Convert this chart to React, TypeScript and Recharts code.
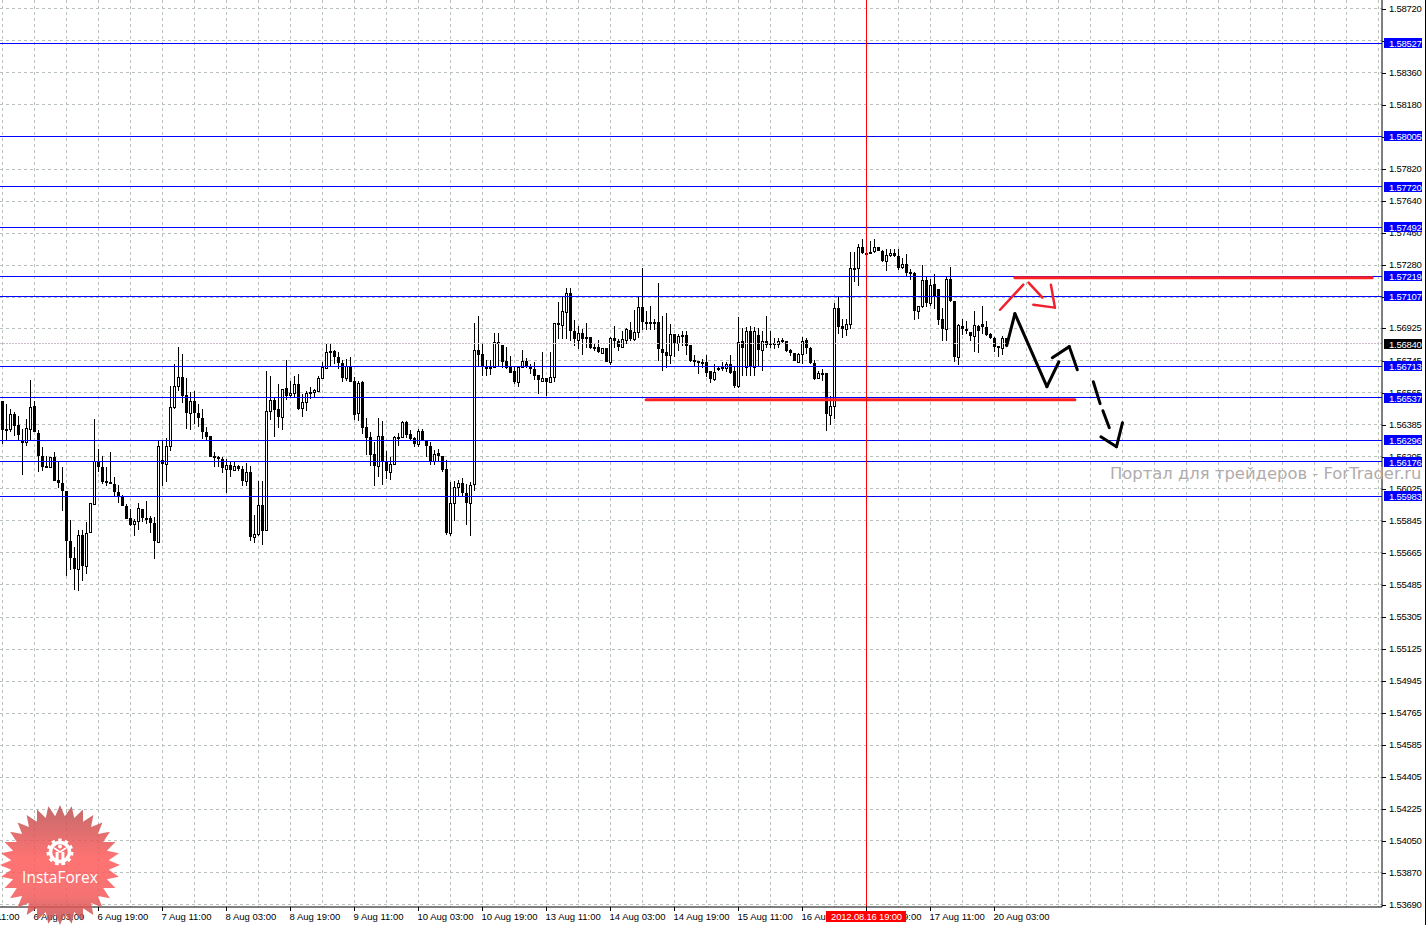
import { Bar, CartesianGrid, ComposedChart, ReferenceLine, XAxis, YAxis } from "recharts";

const opens = [
  1.56519,1.56360,1.56358,1.56444,1.56385,1.56295,1.56289,1.56358,1.56489,1.56340,
  1.56211,1.56154,1.56149,1.56205,1.56074,1.56057,1.56014,1.55733,1.55636,1.55572,
  1.55767,1.55593,1.55780,1.55939,1.56182,1.56149,1.56068,1.56065,1.56051,1.56008,
  1.55982,1.55930,1.55861,1.55825,1.55844,1.55913,1.55861,1.55861,1.55831,1.55728,
  1.56186,1.56164,1.56265,1.56482,1.56600,1.56654,1.56553,1.56448,1.56519,1.56452,
  1.56422,1.56343,1.56323,1.56211,1.56205,1.56192,1.56134,1.56160,1.56130,1.56152,
  1.56134,1.56066,1.56119,1.55752,1.55771,1.55934,1.55793,1.56459,1.56523,1.56472,
  1.56426,1.56590,1.56549,1.56562,1.56613,1.56479,1.56514,1.56568,1.56568,1.56576,
  1.56647,1.56701,1.56798,1.56800,1.56767,1.56731,1.56645,1.56712,1.56632,1.56449,
  1.56623,1.56374,1.56314,1.56220,1.56151,1.56321,1.56181,1.56119,1.56164,1.56318,
  1.56314,1.56400,1.56333,1.56310,1.56276,1.56351,1.56301,1.56267,1.56183,1.56224,
  1.56211,1.56136,1.55775,1.55945,1.56033,1.56058,1.56002,1.55945,1.56050,1.56804,
  1.56782,1.56711,1.56707,1.56707,1.56849,1.56832,1.56742,1.56711,1.56684,1.56626,
  1.56707,1.56742,1.56714,1.56697,1.56662,1.56632,1.56647,1.56626,1.56651,1.56957,
  1.56946,1.57020,1.57123,1.56912,1.56860,1.56899,1.56875,1.56875,1.56820,1.56822,
  1.56788,1.56817,1.56738,1.56871,1.56856,1.56822,1.56861,1.56916,1.56865,1.56903,
  1.57047,1.56962,1.56961,1.56959,1.56959,1.56809,1.56792,1.56774,1.56893,1.56845,
  1.56890,1.56890,1.56833,1.56749,1.56740,1.56738,1.56734,1.56687,1.56641,1.56702,
  1.56706,1.56701,1.56725,1.56687,1.56603,1.56852,1.56710,1.56912,1.56710,1.56890,
  1.56805,1.56856,1.56843,1.56843,1.56837,1.56861,1.56856,1.56805,1.56788,1.56738,
  1.56781,1.56858,1.56818,1.56732,1.56648,1.56676,1.56675,1.56441,1.56492,1.57040,
  1.56939,1.56920,1.56950,1.57266,1.57264,1.57384,1.57350,1.57352,1.57358,1.57384,
  1.57362,1.57302,1.57335,1.57350,1.57332,1.57268,1.57287,1.57240,1.57236,1.57021,
  1.57053,1.57197,1.57066,1.57175,1.57146,1.56978,1.56920,1.57203,1.57081,1.56763,
  1.56941,1.56922,1.56907,1.56881,1.56941,1.56950,1.56935,1.56894,1.56871,1.56825,
  1.56813,1.56871,
];
const highs = [
  1.56519,1.56501,1.56472,1.56454,1.56435,1.56360,1.56416,1.56635,1.56519,1.56355,
  1.56261,1.56211,1.56205,1.56229,1.56182,1.56145,1.56014,1.55851,1.55696,1.55795,
  1.55795,1.55836,1.55945,1.56416,1.56248,1.56211,1.56149,1.56229,1.56093,1.56048,
  1.55992,1.55939,1.55911,1.55855,1.55943,1.55913,1.55958,1.55874,1.55864,1.56295,
  1.56300,1.56310,1.56603,1.56725,1.56822,1.56781,1.56646,1.56566,1.56575,1.56501,
  1.56472,1.56373,1.56323,1.56229,1.56211,1.56201,1.56192,1.56173,1.56177,1.56160,
  1.56154,1.56167,1.56154,1.55879,1.56070,1.56070,1.56688,1.56660,1.56538,1.56613,
  1.56585,1.56747,1.56631,1.56660,1.56669,1.56557,1.56576,1.56598,1.56585,1.56660,
  1.56739,1.56838,1.56838,1.56806,1.56795,1.56748,1.56754,1.56767,1.56654,1.56632,
  1.56632,1.56422,1.56342,1.56286,1.56422,1.56407,1.56239,1.56205,1.56323,1.56336,
  1.56404,1.56404,1.56355,1.56314,1.56361,1.56363,1.56301,1.56286,1.56245,1.56248,
  1.56211,1.56187,1.56061,1.56071,1.56074,1.56084,1.56052,1.56061,1.56954,1.56997,
  1.56838,1.56748,1.56748,1.56898,1.56898,1.56832,1.56823,1.56772,1.56712,1.56711,
  1.56804,1.56759,1.56726,1.56735,1.56666,1.56795,1.56647,1.56795,1.56954,1.57072,
  1.57099,1.57151,1.57150,1.56972,1.56940,1.56921,1.56955,1.56878,1.56846,1.56861,
  1.56815,1.56817,1.56878,1.56940,1.56865,1.56908,1.56927,1.56964,1.57028,1.57099,
  1.57267,1.57024,1.57049,1.56977,1.57178,1.56996,1.57009,1.56949,1.56893,1.56893,
  1.56912,1.56912,1.56833,1.56775,1.56744,1.56753,1.56777,1.56687,1.56725,1.56710,
  1.56734,1.56734,1.56777,1.56706,1.56987,1.56927,1.56934,1.56940,1.56934,1.56927,
  1.56912,1.56996,1.56912,1.56871,1.56871,1.56871,1.56856,1.56809,1.56788,1.56785,
  1.56878,1.56871,1.56822,1.56749,1.56687,1.56695,1.56675,1.56548,1.57066,1.57109,
  1.56978,1.56978,1.57352,1.57352,1.57399,1.57427,1.57371,1.57418,1.57427,1.57384,
  1.57365,1.57371,1.57371,1.57371,1.57371,1.57320,1.57343,1.57259,1.57240,1.57053,
  1.57283,1.57212,1.57203,1.57231,1.57146,1.57040,1.57212,1.57268,1.57081,1.56950,
  1.56978,1.56969,1.56907,1.57025,1.56946,1.57053,1.56969,1.56898,1.56875,1.56829,
  1.56885,1.56871,
];
const lows = [
  1.56276,1.56298,1.56341,1.56323,1.56298,1.56104,1.56267,1.56298,1.56341,1.56117,
  1.56126,1.56145,1.56149,1.56070,1.56029,1.55898,1.55537,1.55569,1.55456,1.55449,
  1.55509,1.55546,1.55780,1.55939,1.56117,1.56051,1.56042,1.56050,1.55986,1.55945,
  1.55926,1.55855,1.55814,1.55758,1.55795,1.55836,1.55827,1.55775,1.55629,1.55724,
  1.56042,1.56061,1.56239,1.56472,1.56575,1.56504,1.56360,1.56355,1.56388,1.56370,
  1.56304,1.56291,1.56205,1.56145,1.56145,1.56111,1.56003,1.56093,1.56123,1.56126,
  1.56042,1.56042,1.55733,1.55718,1.55761,1.55711,1.55793,1.56411,1.56313,1.56366,
  1.56355,1.56523,1.56538,1.56534,1.56467,1.56426,1.56460,1.56529,1.56533,1.56572,
  1.56647,1.56697,1.56707,1.56726,1.56697,1.56626,1.56632,1.56626,1.56413,1.56407,
  1.56333,1.56217,1.56155,1.56039,1.56089,1.56048,1.56080,1.56074,1.56160,1.56267,
  1.56310,1.56308,1.56295,1.56262,1.56258,1.56295,1.56205,1.56159,1.56159,1.56183,
  1.56121,1.55768,1.55762,1.55842,1.55977,1.55977,1.55822,1.55758,1.56015,1.56716,
  1.56660,1.56660,1.56666,1.56703,1.56707,1.56701,1.56697,1.56673,1.56613,1.56598,
  1.56703,1.56703,1.56669,1.56636,1.56557,1.56628,1.56548,1.56623,1.56623,1.56866,
  1.56865,1.56865,1.56856,1.56824,1.56809,1.56777,1.56815,1.56809,1.56796,1.56785,
  1.56781,1.56738,1.56721,1.56815,1.56800,1.56822,1.56837,1.56856,1.56852,1.56871,
  1.56918,1.56918,1.56918,1.56916,1.56744,1.56687,1.56701,1.56725,1.56762,1.56796,
  1.56828,1.56777,1.56734,1.56716,1.56669,1.56702,1.56654,1.56616,1.56628,1.56687,
  1.56687,1.56678,1.56669,1.56588,1.56590,1.56659,1.56656,1.56659,1.56659,1.56706,
  1.56684,1.56815,1.56818,1.56809,1.56818,1.56841,1.56794,1.56772,1.56740,1.56734,
  1.56725,1.56781,1.56725,1.56637,1.56641,1.56631,1.56348,1.56385,1.56417,1.56894,
  1.56871,1.56885,1.56922,1.57184,1.57161,1.57343,1.57343,1.57343,1.57347,1.57358,
  1.57296,1.57249,1.57328,1.57324,1.57255,1.57259,1.57212,1.57197,1.56974,1.56978,
  1.57040,1.57047,1.57053,1.57034,1.56946,1.56853,1.56853,1.57072,1.56735,1.56722,
  1.56890,1.56894,1.56853,1.56791,1.56787,1.56894,1.56885,1.56866,1.56791,1.56763,
  1.56778,1.56819,
];
const closes = [
  1.56355,1.56355,1.56444,1.56379,1.56328,1.56285,1.56366,1.56486,1.56341,1.56207,
  1.56149,1.56149,1.56205,1.56070,1.56055,1.56010,1.55730,1.55634,1.55572,1.55765,
  1.55593,1.55776,1.55945,1.56182,1.56145,1.56061,1.56065,1.56050,1.56005,1.55982,
  1.55926,1.55855,1.55823,1.55844,1.55917,1.55859,1.55857,1.55831,1.55730,1.56265,
  1.56164,1.56265,1.56486,1.56603,1.56654,1.56547,1.56448,1.56519,1.56448,1.56420,
  1.56341,1.56317,1.56205,1.56197,1.56190,1.56139,1.56160,1.56130,1.56152,1.56134,
  1.56066,1.56119,1.55752,1.55771,1.55934,1.55790,1.56463,1.56523,1.56469,1.56426,
  1.56585,1.56544,1.56562,1.56613,1.56472,1.56514,1.56561,1.56561,1.56580,1.56647,
  1.56707,1.56795,1.56793,1.56763,1.56729,1.56645,1.56712,1.56626,1.56441,1.56621,
  1.56364,1.56308,1.56217,1.56151,1.56321,1.56179,1.56123,1.56164,1.56318,1.56314,
  1.56400,1.56329,1.56306,1.56276,1.56351,1.56301,1.56265,1.56183,1.56220,1.56209,
  1.56131,1.55775,1.55945,1.56037,1.56056,1.56000,1.55945,1.56046,1.56804,1.56778,
  1.56711,1.56705,1.56703,1.56847,1.56845,1.56739,1.56703,1.56677,1.56626,1.56711,
  1.56742,1.56711,1.56697,1.56660,1.56636,1.56647,1.56626,1.56654,1.56954,1.56954,
  1.57024,1.57123,1.56908,1.56865,1.56899,1.56865,1.56869,1.56818,1.56817,1.56794,
  1.56815,1.56738,1.56871,1.56856,1.56822,1.56865,1.56921,1.56865,1.56906,1.57047,
  1.56959,1.56957,1.56955,1.56953,1.56807,1.56790,1.56772,1.56893,1.56845,1.56884,
  1.56882,1.56828,1.56744,1.56738,1.56734,1.56729,1.56676,1.56643,1.56678,1.56695,
  1.56701,1.56725,1.56676,1.56603,1.56848,1.56818,1.56912,1.56710,1.56912,1.56805,
  1.56856,1.56833,1.56837,1.56837,1.56856,1.56852,1.56800,1.56785,1.56740,1.56781,
  1.56856,1.56813,1.56729,1.56643,1.56676,1.56669,1.56445,1.56492,1.57040,1.56935,
  1.56920,1.56950,1.57264,1.57261,1.57384,1.57347,1.57347,1.57347,1.57384,1.57358,
  1.57302,1.57339,1.57350,1.57330,1.57264,1.57287,1.57234,1.57234,1.57021,1.57053,
  1.57197,1.57066,1.57171,1.57100,1.56974,1.56920,1.57203,1.57081,1.56763,1.56946,
  1.56920,1.56913,1.56881,1.56944,1.56909,1.56931,1.56890,1.56871,1.56819,1.56817,
  1.56871,1.56829,
];

const priceTicks = [
  1.5872,1.5854,1.5836,1.5818,1.58,1.5782,1.5764,1.5746,1.5728,1.571,1.56925,1.56745,1.56565,1.56385,1.56205,
  1.56025,1.55845,1.55665,1.55485,1.55305,1.55125,1.54945,1.54765,1.54585,1.54405,1.54225,1.5405,1.5387,1.5369,
];
// these tick labels sit fully behind a level tag
const coveredTicks = [1.5854, 1.58, 1.571];
const levels = [1.58527, 1.58005, 1.5772, 1.57492, 1.57219, 1.57107, 1.56713, 1.56537, 1.56296, 1.56176, 1.55983];
const lastPrice = 1.5684;

// every 8th bar gets a grid line, every 16th a date label
const gridBars = [
  0,8,16,24,32,40,48,56,64,72,80,88,96,104,112,120,128,136,144,152,160,168,176,184,192,200,208,216,224,232,240,
  248,256,264,272,280,288,296,304,312,320,328,336,344,
];
const labelBars = [8,24,40,56,72,88,104,120,136,152,168,184,200,216,232,248];
const labelTexts = [
  "6 Aug 03:00","6 Aug 19:00","7 Aug 11:00","8 Aug 03:00","8 Aug 19:00","9 Aug 11:00","10 Aug 03:00","10 Aug 19:00",
  "13 Aug 11:00","14 Aug 03:00","14 Aug 19:00","15 Aug 11:00","16 Aug 03:00","16 Aug 19:00","17 Aug 11:00","20 Aug 03:00",
];
const cursorBar = 216;
const cursorLabel = "2012.08.16 19:00";

const redLevels = [
  [{ bar: 160.9, price: 1.56525 }, { bar: 268.1, price: 1.56525 }],
  [{ bar: 253.1, price: 1.5721 }, { bar: 342.4, price: 1.5721 }],
];
const redArrow = [
  [{ bar: 249.4, price: 1.5703 }, { bar: 255.2, price: 1.57171 }],
  [{ bar: 256.5, price: 1.57182 }, { bar: 260, price: 1.57098 }],
  [{ bar: 262.1, price: 1.57171 }, { bar: 263.1, price: 1.57042 }, { bar: 257.7, price: 1.57058 }],
];
const blackPath = [
  [{ bar: 251.05, price: 1.56828 }, { bar: 253.1, price: 1.57008 }, { bar: 261.1, price: 1.56598 }, { bar: 264.1, price: 1.56738 }],
  [{ bar: 262.45, price: 1.56761 }, { bar: 266.7, price: 1.56823 }, { bar: 268.7, price: 1.56693 }],
  [{ bar: 272.7, price: 1.56626 }, { bar: 274.4, price: 1.56503 }],
  [{ bar: 275.1, price: 1.56463 }, { bar: 276.7, price: 1.56368 }],
  [{ bar: 274.6, price: 1.56317 }, { bar: 278.5, price: 1.56261 }, { bar: 280, price: 1.56396 }],
];

const candles = opens.map((open, i) => ({
  idx: i,
  open,
  high: highs[i],
  low: lows[i],
  close: closes[i],
  range: [lows[i], highs[i]],
}));

const barDomain = [-0.625, 344.875];
const priceDomain = [1.53677, 1.58769];
const axisFont = "'Liberation Sans', sans-serif";

function Candle(props: any) {
  const { x, y, width, height, payload } = props;
  const top = Math.min(y, y + height);
  const span = Math.abs(height);
  const perPrice = span / Math.max(payload.high - payload.low, 0.00001);
  const cx = Math.floor(x + width / 2) + 0.5;
  const bodyTop = Math.round(top + (payload.high - Math.max(payload.open, payload.close)) * perPrice);
  const bodyBottom = Math.round(top + (payload.high - Math.min(payload.open, payload.close)) * perPrice);
  const up = payload.close >= payload.open;
  return (
    <g shapeRendering="crispEdges">
      <line x1={cx} x2={cx} y1={Math.round(top)} y2={Math.round(top + span)} stroke="#000" />
      {up ? (
        <rect x={cx - 1} y={bodyTop + 0.5} width={2} height={Math.max(bodyBottom - bodyTop, 1)} fill="#fff" stroke="#000" />
      ) : (
        <rect x={cx - 1.5} y={bodyTop} width={3} height={Math.max(bodyBottom - bodyTop, 2)} fill="#000" />
      )}
    </g>
  );
}

function TimeTick(props: any) {
  const { x, y, payload } = props;
  if (payload.value === 0) {
    // the label of the bar just left of the window, only its end shows
    return (
      <text x={x - 33} y={y + 13} fontFamily={axisFont} fontSize={9.5} fill="#000">
        3 Aug 11:00
      </text>
    );
  }
  const at = labelBars.indexOf(payload.value);
  if (at < 0) return null;
  return (
    <g>
      <line x1={x} x2={x} y1={y} y2={y + 4} stroke="#000" shapeRendering="crispEdges" />
      <text x={x - 1} y={y + 13} fontFamily={axisFont} fontSize={9.5} fill="#000">
        {labelTexts[at]}
      </text>
    </g>
  );
}

function PriceTick(props: any) {
  const { x, y, payload } = props;
  return (
    <g>
      <line x1={x} x2={x + 4} y1={Math.round(y) + 0.5} y2={Math.round(y) + 0.5} stroke="#000" shapeRendering="crispEdges" />
      {!coveredTicks.includes(payload.value) && (
        <text x={x + 7} y={y + 3} fontFamily={axisFont} fontSize={9.5} letterSpacing={-0.25} fill="#000">
          {payload.value.toFixed(5)}
        </text>
      )}
    </g>
  );
}

// level tags live on a second axis so they paint over the price ticks
function TagTick(props: any) {
  const { y, payload } = props;
  const row = Math.round(y);
  return (
    <g>
      <rect x={1384} y={row - 5} width={38} height={10} fill={payload.value === lastPrice ? "#000" : "#0000ff"} />
      <text x={1389} y={row + 3.5} fontFamily={axisFont} fontSize={9.5} letterSpacing={-0.25} fill="#fff">
        {payload.value.toFixed(5)}
      </text>
    </g>
  );
}

function CursorTick(props: any) {
  const { x } = props;
  return (
    <g>
      <rect x={x - 40.5} y={911} width={80} height={11} fill="#ff0000" />
      <text x={x} y={920} textAnchor="middle" fontFamily={axisFont} fontSize={9.5} letterSpacing={-0.2} fill="#fff">
        {cursorLabel}
      </text>
    </g>
  );
}

function strokes(paths: { bar: number; price: number }[][], color: string, width: number) {
  return paths.flatMap((path, p) =>
    path.slice(1).map((pt, i) => (
      <ReferenceLine
        key={`${color}-${p}-${i}`}
        segment={[
          { x: path[i].bar, y: path[i].price },
          { x: pt.bar, y: pt.price },
        ]}
        stroke={color}
        strokeWidth={width}
        strokeLinecap="round"
        ifOverflow="visible"
      />
    )),
  );
}

// InstaForex stamp in the corner, not part of the data
function Stamp() {
  const points: string[] = [];
  for (let i = 0; i < 64; i++) {
    const r = i % 2 === 0 ? 60 : 49;
    const a = (i / 64) * Math.PI * 2;
    points.push(`${60 + r * Math.sin(a)},${865 - r * Math.cos(a)}`);
  }
  return (
    <svg width={1426} height={925} style={{ position: "absolute", left: 0, top: 0, pointerEvents: "none" }}>
      <defs>
        <linearGradient id="stampFill" x1="0" y1="0" x2="0" y2="1">
          <stop offset="0" stopColor="#b85050" />
          <stop offset="0.45" stopColor="#ff5a5a" />
          <stop offset="0.75" stopColor="#f45a5a" />
          <stop offset="1" stopColor="#bc5050" />
        </linearGradient>
      </defs>
      <polygon points={points.join(" ")} fill="url(#stampFill)" fillOpacity={0.85} />
      <circle cx={60} cy={852} r={9.5} fill="none" stroke="#fff" strokeWidth={3.5} />
      <circle cx={60} cy={852} r={12} fill="none" stroke="#fff" strokeWidth={3} strokeDasharray="3.4 3.4" />
      <circle cx={60} cy={846.5} r={2} fill="#fff" />
      <path d="M54 848 L60 852 L66 848" fill="none" stroke="#fff" strokeWidth={1.6} />
      <rect x={55.6} y={852} width={3} height={13} fill="#fff" />
      <rect x={61.4} y={852} width={3} height={13} fill="#fff" />
      <text x={60} y={883} textAnchor="middle" fontFamily="'Open Sans', sans-serif" fontSize={15.5} fill="#fff">
        InstaForex
      </text>
    </svg>
  );
}

export default function App() {
  return (
    <div style={{ position: "absolute", left: 0, top: 0, width: 1426, height: 925, background: "#fff", overflow: "hidden" }}>
      <ComposedChart width={1426} height={925} data={candles} margin={{ top: 0, right: 0, bottom: 0, left: 0 }} barSize={3}>
        <CartesianGrid stroke="#b9c2ba" strokeDasharray="3 3" shapeRendering="crispEdges" horizontalValues={priceTicks} verticalValues={gridBars} />
        <XAxis
          dataKey="idx"
          type="number"
          domain={barDomain}
          allowDataOverflow
          ticks={gridBars}
          interval={0}
          height={18}
          tick={<TimeTick />}
          tickLine={false}
          tickSize={0}
          tickMargin={0}
          stroke="#000"
        />
        <XAxis
          xAxisId="cursor"
          dataKey="idx"
          type="number"
          mirror
          domain={barDomain}
          allowDataOverflow
          ticks={[cursorBar]}
          interval={0}
          tick={<CursorTick />}
          tickLine={false}
          axisLine={false}
          tickSize={0}
          tickMargin={0}
        />
        <YAxis
          orientation="right"
          type="number"
          domain={priceDomain}
          allowDataOverflow
          ticks={priceTicks}
          interval={0}
          width={44}
          tick={<PriceTick />}
          tickLine={false}
          tickSize={0}
          tickMargin={0}
          stroke="#000"
        />
        <YAxis
          yAxisId="tags"
          orientation="right"
          type="number"
          mirror
          domain={priceDomain}
          allowDataOverflow
          ticks={[...levels, lastPrice]}
          interval={0}
          tick={<TagTick />}
          tickLine={false}
          axisLine={false}
          tickSize={0}
          tickMargin={0}
        />
        <Bar dataKey="range" shape={<Candle />} isAnimationActive={false} />
        <ReferenceLine y={lastPrice} stroke="#cbbccb" strokeDasharray="2 1" shapeRendering="crispEdges" />
        {levels.map((level) => (
          <ReferenceLine key={level} y={level} stroke="#0000ff" shapeRendering="crispEdges" />
        ))}
        {strokes(redLevels, "#ff2020", 3)}
        <ReferenceLine x={cursorBar} stroke="#ff0000" shapeRendering="crispEdges" />
        {strokes(redArrow, "#f0202c", 2.5)}
        {strokes(blackPath, "#000", 3)}
      </ComposedChart>
      <div
        style={{
          position: "absolute",
          left: 1110,
          top: 464,
          color: "#b2abab",
          fontFamily: "'DejaVu Sans', sans-serif",
          fontSize: 16.4,
          whiteSpace: "nowrap",
        }}
      >
        Портал для трейдеров - ForTrader.ru
      </div>
      <Stamp />
      <div style={{ position: "absolute", left: 1425, top: 0, width: 1, height: 925, background: "#000" }} />
    </div>
  );
}
